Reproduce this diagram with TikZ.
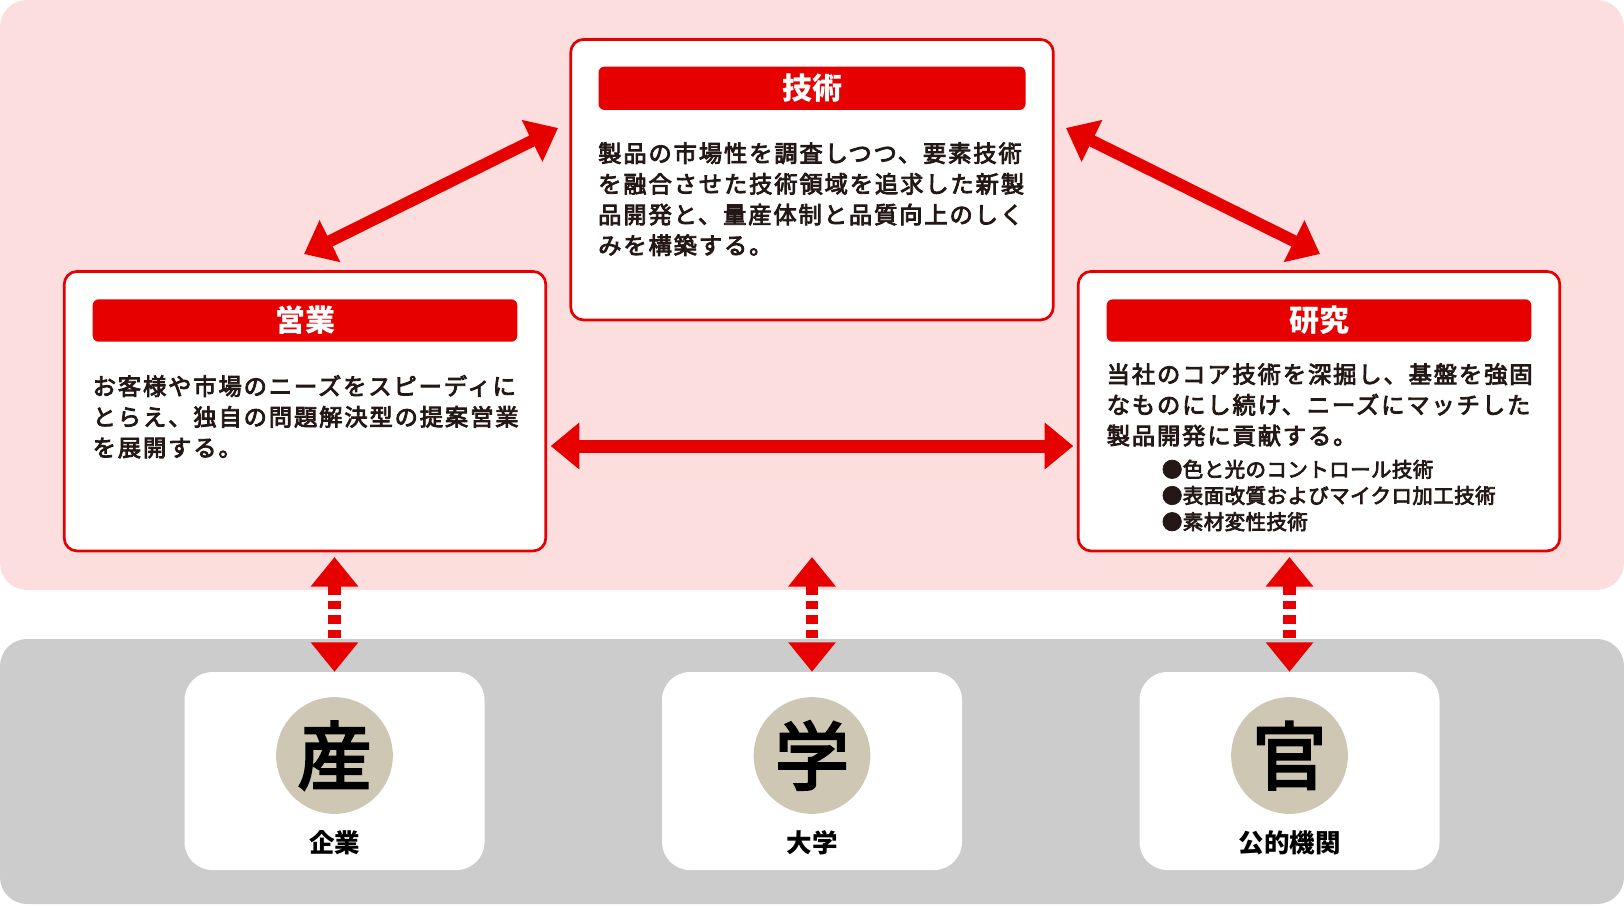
\documentclass[tikz,border=0pt]{standalone}
\usepackage{fontspec}
\setmainfont{Noto Sans CJK JP}
\newfontfamily\jmed{Noto Sans CJK JP}[FakeBold=3.5]
\usetikzlibrary{arrows.meta}
\definecolor{myred}{RGB}{230,0,0}
\definecolor{mypink}{RGB}{253,222,222}
\definecolor{mygray}{RGB}{204,204,204}
\definecolor{mybeige}{RGB}{206,199,179}
\definecolor{mytext}{RGB}{35,24,21}
\newcommand\jbodyfont{\jmed\fontsize{23.3pt}{30pt}\selectfont\addfontfeature{LetterSpace=8}}
\newcommand\jbulfont{\jmed\fontsize{20.5pt}{26pt}\selectfont\addfontfeature{LetterSpace=2}}
\newcommand\jtitlefont{\fontsize{30pt}{34pt}\selectfont\bfseries}
\newcommand\jbigfont{\jmed\fontsize{74pt}{80pt}\selectfont}
\newcommand\jlabelfont{\fontsize{25.5pt}{30pt}\selectfont\bfseries}
\tikzset{
  redbox/.style={draw=myred, line width=2.7pt, fill=white, rounded corners=13pt, inner sep=0pt},
  hdr/.style={fill=myred, rounded corners=6pt, text=white, font=\jtitlefont, inner sep=0pt},
  bodyline/.style={anchor=base west, inner sep=0pt, text=mytext, font=\jbodyfont},
  bulline/.style={anchor=base west, inner sep=0pt, text=mytext, font=\jbulfont},
  lowbox/.style={fill=white, rounded corners=28pt, minimum width=300pt, minimum height=198pt, inner sep=0pt},
  ring/.style={circle, fill=mybeige, minimum size=116.7pt, inner sep=0pt, text=black, font=\jbigfont},
  lowlabel/.style={inner sep=0pt, text=black, font=\jlabelfont},
  biarrow/.style={draw=myred, line width=12pt, line join=miter,
     {Triangle[length=29pt,width=45pt]}-{Triangle[length=29pt,width=45pt]}},
  harrow/.style={draw=myred, line width=13pt, line join=miter,
     {Triangle[length=28.6pt,width=45pt]}-{Triangle[length=28.6pt,width=45pt]}},
  vdarrow/.style={draw=myred, line width=12.7pt, dash pattern=on 8.2pt off 6.3pt, dash phase=12.7pt,
     {Triangle[length=29.5pt,width=45.7pt]}-{Triangle[length=29.5pt,width=45.7pt]}}
}
\begin{document}
\begin{tikzpicture}[x=1pt,y=-1pt]
\useasboundingbox (0,0) rectangle (1624,905);
% background panels
\fill[mypink, rounded corners=27pt] (0,0) rectangle (1624,590);
\fill[mygray, rounded corners=27pt] (0,639) rectangle (1624,904);

% main boxes
\node[redbox, minimum width=482.6pt, minimum height=280.6pt] (gi) at (812,179.7) {};
\node[redbox, minimum width=481.6pt, minimum height=279.6pt] (ei) at (305,411.2) {};
\node[redbox, minimum width=481.6pt, minimum height=279.6pt] (ke) at (1319,411.2) {};

% headers
\node[hdr, minimum width=427pt, minimum height=43.3pt] (gih) at (812,88.3) {技術};
\node[hdr, minimum width=424.6pt, minimum height=42.4pt] (eih) at (305,320.5) {営業};
\node[hdr, minimum width=424.6pt, minimum height=42.4pt] (keh) at (1319,320.5) {研究};

% body of 技術
\node[bodyline] (gi1) at (598,162) {製品の市場性を調査しつつ、要素技術};
\node[bodyline] (gi2) at (598,192.7) {を融合させた技術領域を追求した新製};
\node[bodyline] (gi3) at (598,223.4) {品開発と、量産体制と品質向上のしく};
\node[bodyline] (gi4) at (598,254.1) {みを構築する。};

% body of 営業
\node[bodyline] (ei1) at (92.5,395) {お客様や市場のニーズをスピーディに};
\node[bodyline] (ei2) at (92.5,425.7) {とらえ、独自の問題解決型の提案営業};
\node[bodyline] (ei3) at (92.5,456.4) {を展開する。};

% body of 研究
\node[bodyline] (ke1) at (1106.5,383) {当社のコア技術を深掘し、基盤を強固};
\node[bodyline] (ke2) at (1106.5,413.7) {なものにし続け、ニーズにマッチした};
\node[bodyline] (ke3) at (1106.5,444.4) {製品開発に貢献する。};
\node[bulline] (kb1) at (1161.7,477.1) {●色と光のコントロール技術};
\node[bulline] (kb2) at (1161.7,503.3) {●表面改質およびマイクロ加工技術};
\node[bulline] (kb3) at (1161.7,529.5) {●素材変性技術};

% lower boxes
\node[lowbox] (sanbox) at (334.5,771) {};
\node[lowbox] (gakubox) at (812,771) {};
\node[lowbox] (kanbox) at (1289.5,771) {};
\node[ring] (san) at (334.5,755.5) {産};
\node[ring] (gaku) at (812,755.5) {学};
\node[ring] (kan) at (1289.5,755.5) {官};
\node[lowlabel] (sanl) at (334.5,843) {企業};
\node[lowlabel] (gakul) at (812,843) {大学};
\node[lowlabel] (kanl) at (1289.5,843) {公的機関};

% arrow end points
\coordinate (d1a) at (304,254);
\coordinate (d1b) at (558,128);
\coordinate (d2a) at (1066,128);
\coordinate (d2b) at (1320,254);
\coordinate (ha) at (550.7,446);
\coordinate (hb) at (1073.3,446);
\coordinate (v1t) at (334.5,557);
\coordinate (v2t) at (812,557);
\coordinate (v3t) at (1289.5,557);

\draw[biarrow] (d1a) -- (d1b);
\draw[biarrow] (d2a) -- (d2b);
\draw[harrow] (ha) -- (hb);
\draw[vdarrow] (v1t) -- (sanbox.north);
\draw[vdarrow] (v2t) -- (gakubox.north);
\draw[vdarrow] (v3t) -- (kanbox.north);
\end{tikzpicture}
\end{document}
